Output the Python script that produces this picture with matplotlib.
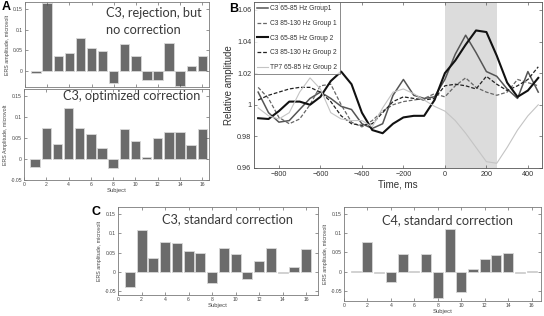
import matplotlib
matplotlib.use("Agg")
import matplotlib.pyplot as plt
import numpy as np

W, H = 544, 316

subjects = list(range(1, 17))
a_rejection = [-0.007, 0.165, 0.036, 0.044, 0.080, 0.056, 0.047, -0.030, 0.065, 0.035,
               -0.024, -0.023, 0.068, -0.038, 0.012, 0.036]
a_optimized = [-0.019, 0.074, 0.036, 0.121, 0.074, 0.060, 0.026, -0.021, 0.071, 0.043,
               0.005, 0.050, 0.064, 0.064, 0.033, 0.071]
c3_standard = [-0.039, 0.109, 0.035, 0.078, 0.074, 0.055, 0.050, -0.030, 0.063, 0.045,
               -0.019, 0.028, 0.063, -0.003, 0.013, 0.058]
c4_standard = [0.001, 0.076, -0.003, -0.026, 0.045, 0.001, 0.045, -0.068, 0.110, -0.052,
               0.007, 0.032, 0.043, 0.048, -0.003, 0.001]

time_ms = [-900, -850, -800, -750, -700, -650, -600, -550, -500, -450, -400, -350, -300, -250,
           -200, -150, -100, -50, 0, 50, 100, 150, 200, 250, 300, 350, 400, 450]
c3_lo_g1 = [1.008, 0.995, 0.989, 0.990, 0.997, 1.004, 1.008, 1.004, 0.999, 0.997, 0.988, 0.985,
            0.988, 1.006, 1.016, 1.006, 1.004, 1.005, 1.016, 1.032, 1.044, 1.033, 1.021, 1.018,
            1.010, 1.004, 1.021, 1.008]
c3_hi_g1 = [1.011, 1.004, 0.992, 0.988, 0.991, 1.000, 1.012, 1.013, 1.000, 0.989, 0.986, 0.990,
            0.996, 1.000, 1.002, 1.003, 1.004, 1.007, 1.005, 1.012, 1.017, 1.011, 1.008, 1.006,
            1.008, 1.016, 1.014, 1.012]
c3_lo_g2 = [0.9915, 0.991, 0.996, 1.002, 1.002, 1.000, 1.005, 1.015, 1.021, 1.013, 0.995, 0.984,
            0.982, 0.988, 0.992, 0.993, 0.993, 1.003, 1.020, 1.028, 1.038, 1.047, 1.046, 1.031,
            1.014, 1.005, 1.009, 1.017]
c3_hi_g2 = [1.003, 1.006, 1.008, 1.010, 1.011, 1.011, 1.008, 1.002, 0.993, 0.988, 0.987, 0.988,
            0.995, 1.002, 1.005, 1.004, 1.003, 1.004, 1.012, 1.013, 1.012, 1.010, 1.018, 1.013,
            1.009, 1.012, 1.016, 1.024]
tp7_lo_g2 = [0.998, 0.993, 0.991, 0.995, 1.008, 1.017, 1.010, 0.995, 0.991, 0.990, 0.990, 0.986,
             0.998, 1.008, 1.010, 1.007, 1.003, 0.999, 0.996, 0.990, 0.982, 0.973, 0.964, 0.963,
             0.973, 0.984, 0.993, 1.000]

legend_labels = ["C3 65-85 Hz Group1", "C3 85-130 Hz Group 1", "C3 65-85 Hz Group 2",
                 "C3 85-130 Hz Group 2", "TP7 65-85 Hz Group 2"]

fig = plt.figure(figsize=(W / 100, H / 100), dpi=100)
fig.patch.set_facecolor("white")

def ax_px(l, t, r, b):
    return fig.add_axes([l / W, 1 - b / H, (r - l) / W, (b - t) / H])

TITLE_FONT = ["Lato", "DejaVu Sans"]
TICK_FONT = ["Liberation Sans", "DejaVu Sans"]
BAR_FC = "#6b6b6b"
BAR_EC = "#d8d8d8"
SPINE = "#7a7a7a"

def bar_panel(ax, vals, title_lines, title_xy, ylim, xlim, ylabel, xlabel=None,
              show_xticklabels=True, yticks=(-0.05, 0, 0.05, 0.1, 0.15)):
    ax.bar(subjects, vals, width=0.85, color=BAR_FC, edgecolor=BAR_EC, linewidth=0.6)
    ax.set_xlim(*xlim)
    ax.set_ylim(*ylim)
    ax.set_xticks(range(0, 17, 2))
    ax.set_yticks(list(yticks))
    ax.set_yticklabels([("%g" % v) for v in yticks])
    if not show_xticklabels:
        ax.set_xticklabels([])
    ax.tick_params(direction="in", length=2, width=0.4, labelsize=3.6, colors="#444444",
                   pad=1.5, top=True, right=True)
    for lab in ax.get_xticklabels() + ax.get_yticklabels():
        lab.set_family(TICK_FONT)
    for s in ax.spines.values():
        s.set_color(SPINE)
        s.set_linewidth(0.6)
    ax.set_ylabel(ylabel, fontsize=3.8, family=TICK_FONT, color="#444444", labelpad=2)
    if xlabel:
        ax.set_xlabel(xlabel, fontsize=4.2, family=TICK_FONT, color="#444444", labelpad=0.5)
    for i, line in enumerate(title_lines):
        ax.text(title_xy[0], title_xy[1] - i * 0.2, line, transform=ax.transAxes,
                fontsize=9.2, family=TITLE_FONT, color="#3a3a3a", va="center", ha="left")

# Panel A top
axA1 = ax_px(25, 2, 209, 87)
bar_panel(axA1, a_rejection, ["C3, rejection, but", "no correction"], (0.44, 0.87),
          (-0.04, 0.167), (0, 16.6), "ERS amplitude, microvolt", show_xticklabels=False,
          yticks=(0, 0.05, 0.1, 0.15))
# Panel A bottom
axA2 = ax_px(24, 89, 209, 180)
bar_panel(axA2, a_optimized, ["C3, optimized correction"], (0.21, 0.92),
          (-0.05, 0.167), (0, 16.6), "ERS Amplitude, microvolt", xlabel="Subject")
# Panel C left
axC1 = ax_px(118, 207, 318, 295)
bar_panel(axC1, c3_standard, ["C3, standard correction"], (0.22, 0.86),
          (-0.06, 0.168), (0, 17), "ERS amplitude, microvolt", xlabel="Subject")
# Panel C right
axC2 = ax_px(344, 207, 541, 301)
bar_panel(axC2, c4_standard, ["C4, standard correction"], (0.195, 0.86),
          (-0.076, 0.168), (0, 16.8), "ERS amplitude, microvolt", xlabel="Subject")

# Panel B
axB = ax_px(254, 2, 542, 168)
axB.axvspan(0, 250, color="#dcdcdc", zorder=0, linewidth=0)
styles = [
    dict(color="#555555", lw=1.1, ls="-"),
    dict(color="#666666", lw=0.9, ls=(0, (3, 1.5))),
    dict(color="#111111", lw=1.5, ls="-"),
    dict(color="#222222", lw=0.9, ls=(0, (3, 1.5))),
    dict(color="#c4c4c4", lw=0.8, ls="-"),
]
series = [c3_lo_g1, c3_hi_g1, c3_lo_g2, c3_hi_g2, tp7_lo_g2]
handles = []
for s, st, lab in zip(series, styles, legend_labels):
    h, = axB.plot(time_ms, s, label=lab, solid_joinstyle="round", **st)
    handles.append(h)
axB.set_xlim(-920, 468)
axB.set_ylim(0.96, 1.065)
axB.set_xticks([-800, -600, -400, -200, 0, 200, 400])
axB.set_yticks([0.96, 0.98, 1.0, 1.02, 1.04, 1.06])
axB.set_yticklabels(["0.96", "0.98", "1", "1.02", "1.04", "1.06"])
axB.tick_params(direction="in", length=2.5, width=0.4, labelsize=5.2, colors="#333333",
                pad=2, top=True, right=True)
for lab in axB.get_xticklabels() + axB.get_yticklabels():
    lab.set_family(TICK_FONT)
for sp in axB.spines.values():
    sp.set_color("#555555")
    sp.set_linewidth(0.6)
axB.set_ylabel("Relative amplitude", fontsize=7, family=TICK_FONT, color="#333333", labelpad=2)
axB.set_xlabel("Time, ms", fontsize=7, family=TICK_FONT, color="#333333", labelpad=1)
leg = axB.legend(handles=handles, loc="upper left", bbox_to_anchor=(0, 1),
                 prop={"family": TICK_FONT, "size": 4.8}, frameon=True, fancybox=False,
                 handlelength=1.6, handletextpad=0.3, labelspacing=1.15, borderpad=0.5,
                 borderaxespad=0.0)
leg.get_frame().set_edgecolor("#555555")
leg.get_frame().set_linewidth(0.6)
for t in leg.get_texts():
    t.set_color("#333333")

# Panel letters
fig.text(2 / W, 1 - 7 / H, "A", fontsize=9, fontweight="bold", family=TICK_FONT,
         va="center", ha="left")
fig.text(229 / W, 1 - 9 / H, "B", fontsize=9, fontweight="bold", family=TICK_FONT,
         va="center", ha="left")
fig.text(92 / W, 1 - 212 / H, "C", fontsize=9, fontweight="bold", family=TICK_FONT,
         va="center", ha="left")

fig.savefig("out.png", dpi=100, facecolor="white")
